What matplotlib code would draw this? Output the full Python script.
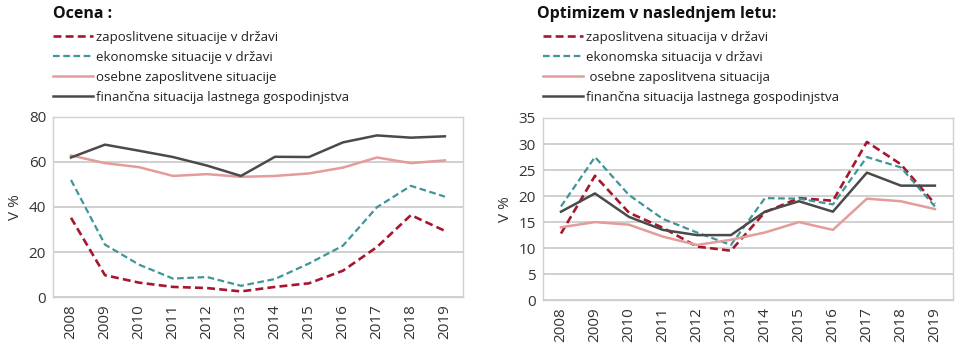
import numpy as np
import matplotlib
matplotlib.use('Agg')
import matplotlib.pyplot as plt

plt.rcParams['font.family'] = ['Open Sans', 'DejaVu Sans']

years = [str(y) for y in range(2008, 2020)]

# Ocena (left panel)
ocena_zaposlitvene = [35.2, 9.7, 6.4, 4.5, 4.0, 2.5, 4.5, 6.1, 11.7, 22.2, 36.4, 29.4]
ocena_ekonomske = [52.0, 23.3, 14.4, 8.2, 8.9, 5.0, 8.0, 14.9, 22.8, 39.9, 49.4, 44.6]
ocena_osebne = [62.9, 59.5, 57.7, 53.8, 54.6, 53.4, 53.8, 54.9, 57.5, 62.0, 59.5, 60.7]
ocena_financna = [62.0, 67.7, 65.0, 62.2, 58.4, 53.8, 62.3, 62.2, 68.7, 71.8, 70.8, 71.4]

# Optimizem v naslednjem letu (right panel)
opt_zaposlitvena = [12.8, 23.9, 16.8, 13.9, 10.3, 9.5, 16.9, 19.6, 19.1, 30.4, 26.1, 18.5]
opt_ekonomska = [18.0, 27.5, 20.2, 15.6, 13.0, 10.6, 19.6, 19.5, 18.4, 27.5, 25.5, 18.0]
opt_osebne = [14.0, 15.0, 14.5, 12.2, 10.6, 11.6, 13.0, 15.0, 13.5, 19.5, 19.0, 17.5]
opt_financna = [17.0, 20.5, 16.0, 13.5, 12.5, 12.5, 17.0, 19.0, 17.0, 24.5, 22.0, 22.0]

left_labels = ['zaposlitvene situacije v državi', 'ekonomske situacije v državi',
               'osebne zaposlitvene situacije', 'finančna situacija lastnega gospodinjstva']
right_labels = ['zaposlitvena situacija v državi', 'ekonomska situacija v državi',
                ' osebne zaposlitvena situacija', 'finančna situacija lastnega gospodinjstva']

RED = '#a6172d'
TEAL = '#3f9598'
PINK = '#e39c9a'
DARK = '#4a4a4a'
GRID = '#c8c8c8'

styles = [dict(color=RED, ls=(0, (3, 1.6)), lw=1.9),
          dict(color=TEAL, ls=(0, (3, 1.6)), lw=1.6),
          dict(color=PINK, ls='-', lw=1.8),
          dict(color=DARK, ls='-', lw=1.8)]


def panel(ax, series, labels, ymax, ystep):
    x = np.arange(len(years))
    handles = []
    for vals, st, lab in zip(series, styles, labels):
        h, = ax.plot(x, vals, label=lab, **st)
        handles.append(h)
    ax.set_xlim(-0.53, len(years) - 0.47)
    ax.set_ylim(0, ymax)
    ax.set_yticks(np.arange(0, ymax + 0.1, ystep))
    ax.set_xticks(x)
    ax.set_xticklabels(years, rotation=90)
    ax.yaxis.grid(True, color=GRID, lw=1.2)
    ax.set_axisbelow(True)
    for s in ax.spines.values():
        s.set_color('#d0d0d0')
        s.set_linewidth(1.0)
    ax.tick_params(length=0, labelsize=11, colors='#333333', pad=5)
    ax.set_ylabel('V %', fontsize=11, color='#333333', labelpad=4)
    return handles


fig = plt.figure(figsize=(9.6, 3.45), dpi=100)

ax1 = fig.add_axes([0.0552, 0.139, 0.427, 0.522])
h1 = panel(ax1, [ocena_zaposlitvene, ocena_ekonomske, ocena_osebne, ocena_financna],
           left_labels, 80, 20)
ax2 = fig.add_axes([0.5656, 0.130, 0.427, 0.528])
h2 = panel(ax2, [opt_zaposlitvena, opt_ekonomska, opt_osebne, opt_financna],
           right_labels, 35, 5)

fig.text(0.0552, 0.96, 'Ocena :', fontsize=11.5, fontweight='bold', va='center', color='#111111')
fig.text(0.559, 0.96, 'Optimizem v naslednjem letu:', fontsize=11.5, fontweight='bold',
         va='center', color='#111111')

for hs, x0 in [(h1, 0.0552), (h2, 0.5656)]:
    fig.legend(handles=hs, loc='upper left', bbox_to_anchor=(x0, 0.91),
               frameon=False, fontsize=9.5, handlelength=3.0, handletextpad=0.25,
               labelspacing=0.52, borderpad=0, borderaxespad=0, labelcolor='#222222')

fig.savefig('out.png', dpi=100)
